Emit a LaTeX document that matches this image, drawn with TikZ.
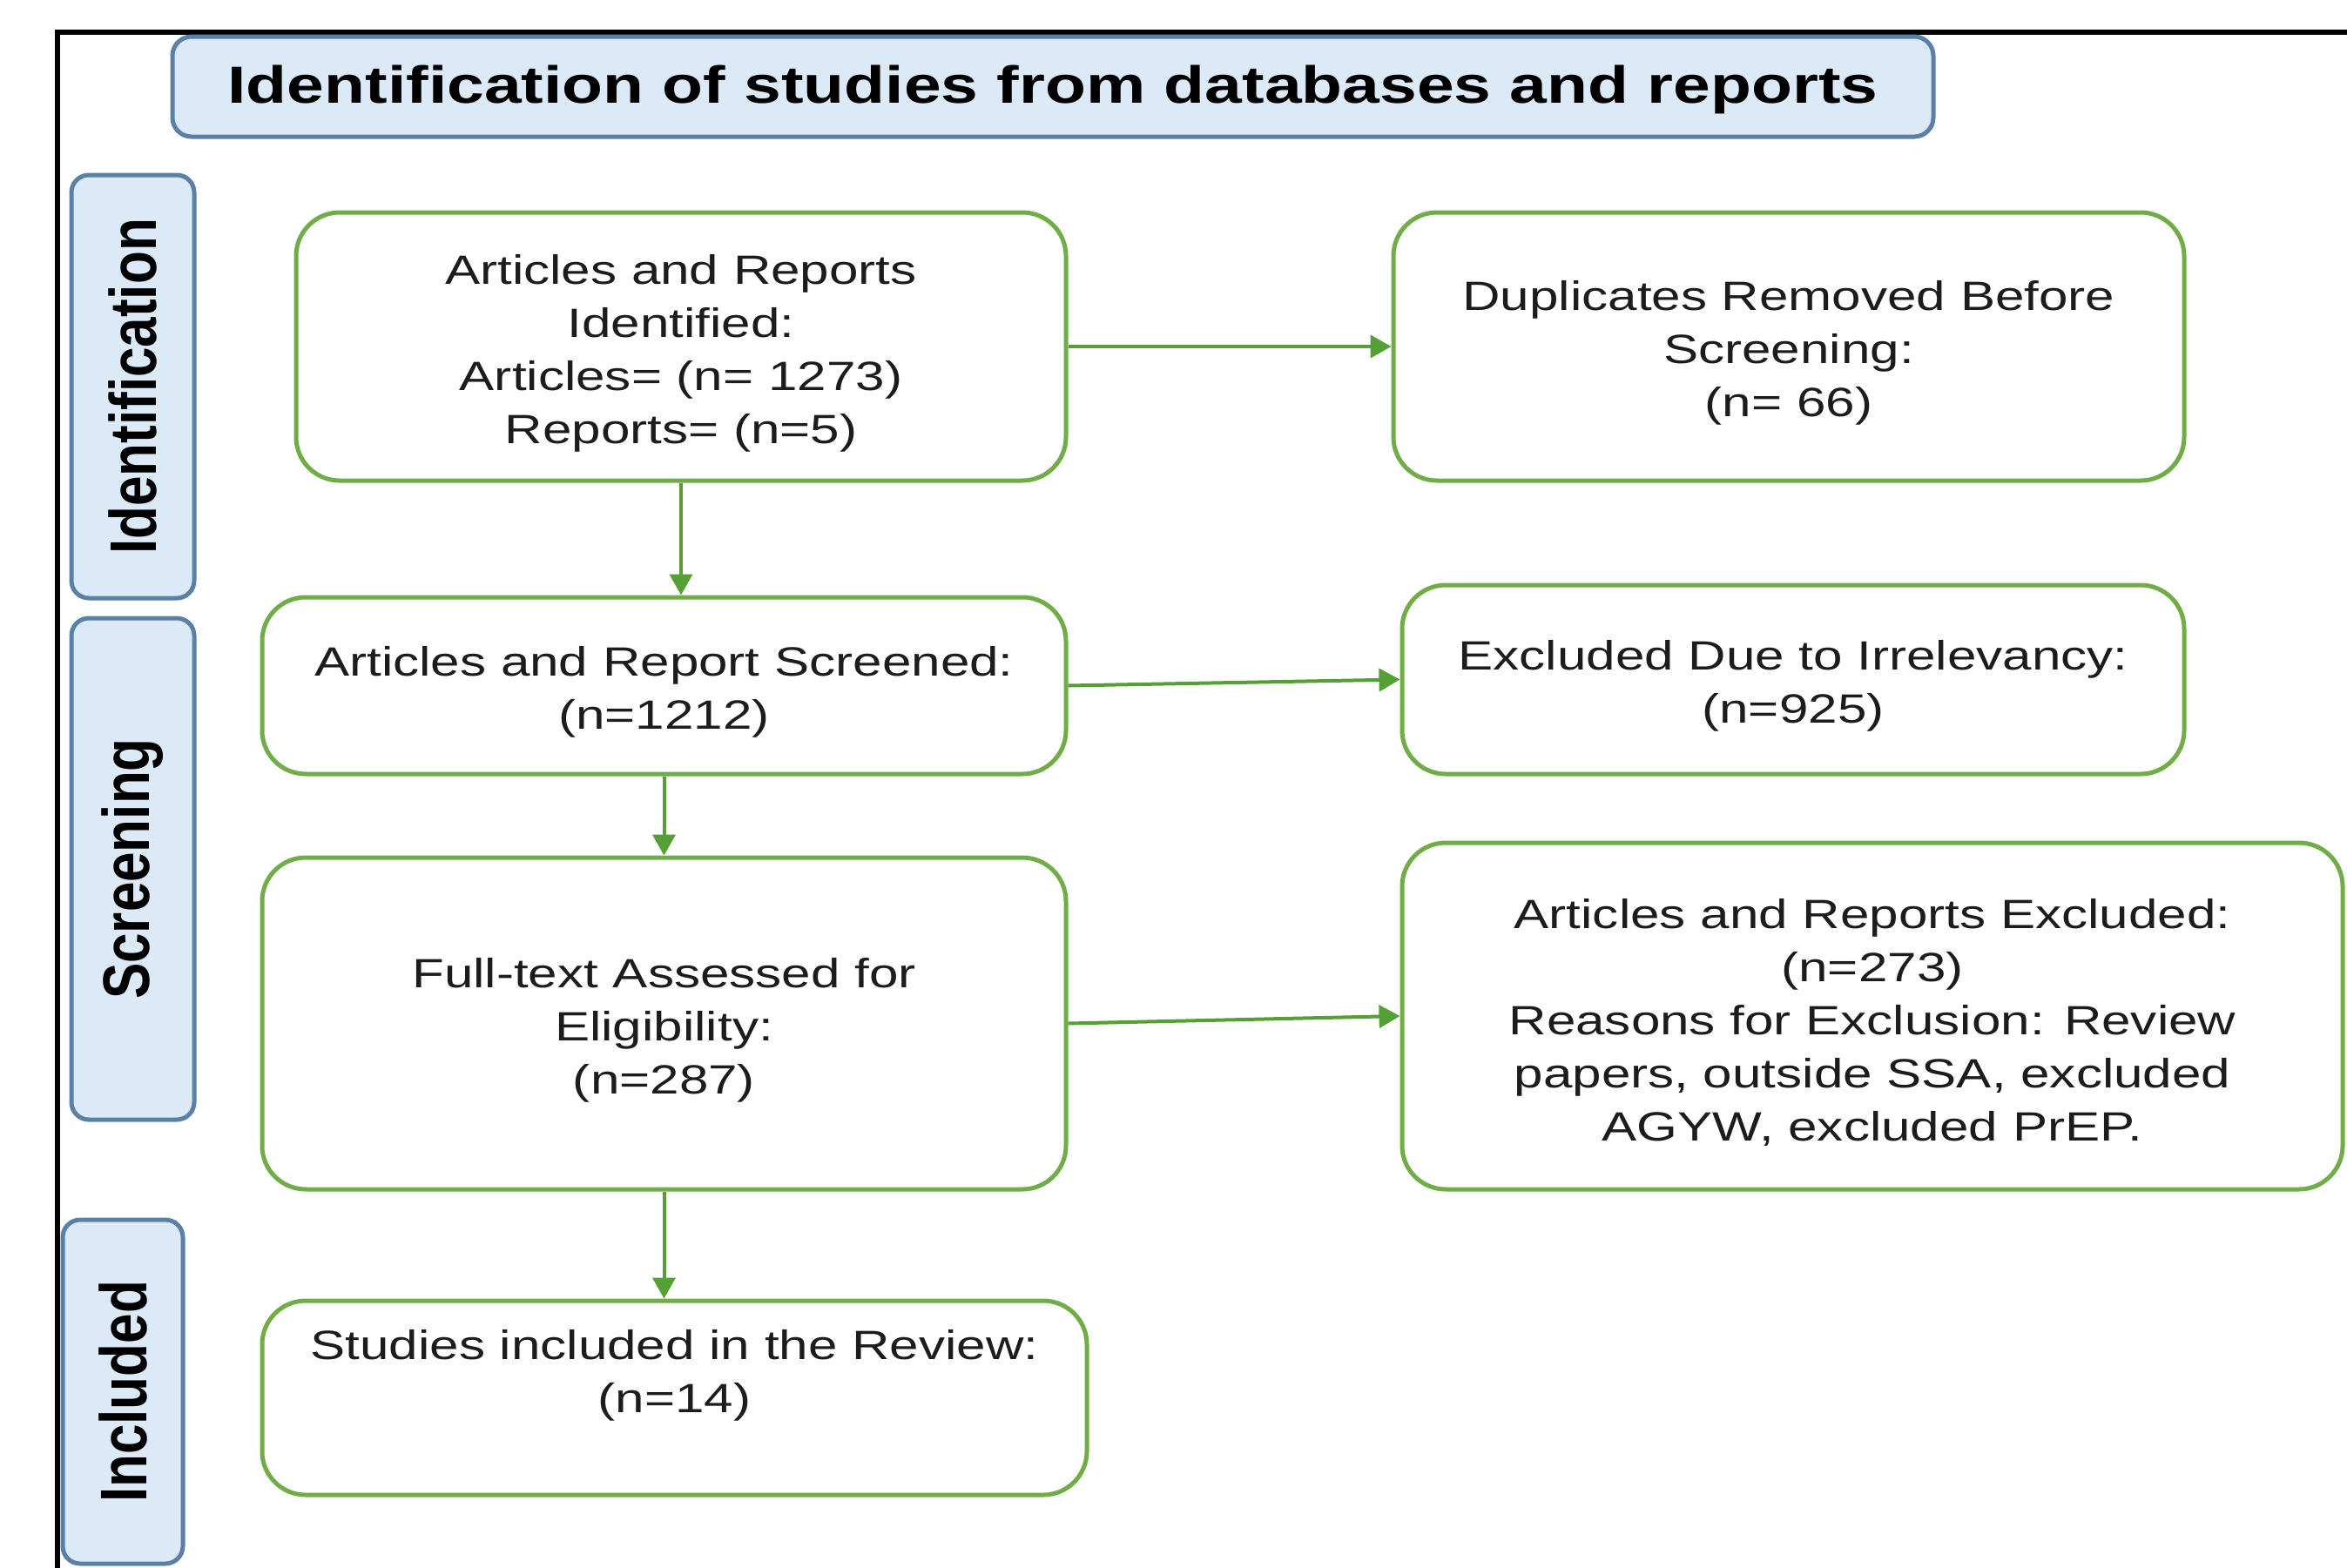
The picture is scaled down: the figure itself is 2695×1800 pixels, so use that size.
\documentclass[tikz,border=0pt]{standalone}
\usepackage{fontspec}
\usetikzlibrary{arrows.meta}
\newfontfamily\bodyfont[FakeStretch=1.28]{Liberation Sans}
\newfontfamily\sidefont{Liberation Sans}
\definecolor{gborder}{RGB}{112,173,71}
\definecolor{garrow}{RGB}{84,160,52}
\definecolor{bfill}{RGB}{220,233,247}
\definecolor{bborder}{RGB}{90,128,168}
\definecolor{txt}{RGB}{28,28,28}
\tikzset{
  gbox/.style={draw=gborder, line width=5pt, rounded corners=50pt, fill=white,
    align=center, inner sep=0pt, text=txt,
    font={\bodyfont\fontsize{47}{61}\selectfont}},
  sidebox/.style={draw=bborder, fill=bfill, line width=5pt, rounded corners=20pt,
    inner sep=0pt, minimum width=141pt, text=black,
    font={\sidefont\bfseries\fontsize{62}{70}\selectfont}},
  titlebox/.style={draw=bborder, fill=bfill, line width=5pt, rounded corners=22pt,
    inner sep=0pt, text=black,
    font={\bodyfont\bfseries\fontsize{60}{70}\selectfont}},
  arr/.style={draw=garrow, line width=4pt, -{Triangle[length=24pt,width=26pt]}},
}
\newcommand{\sidelabel}[1]{\rotatebox{90}{\scalebox{1}[1.22]{#1}}}
\newcommand{\topstrut}{\rule{0pt}{49pt}}
\begin{document}
\begin{tikzpicture}[x=1pt,y=-1pt]
\useasboundingbox (0,0) rectangle (2695,1800);
% outer frame (clipped at right and bottom)
\draw[line width=6pt, black] (66,1810) -- (66,37) -- (2710,37);
% title
\node[titlebox, minimum width=2022pt, minimum height=115pt] (title) at (1209,99.5)
  {\rule{0pt}{50pt}Identification of studies from databases and reports};
% side labels
\node[sidebox, minimum height=486pt] (sid) at (152.5,444) {\sidelabel{Identification}};
\node[sidebox, minimum height=576pt] (sscr) at (152.5,998) {\sidelabel{Screening}};
\node[sidebox, minimum width=138pt, minimum height=395pt] (sinc) at (141,1598.5) {\sidelabel{Included}};
% boxes
\node[gbox, minimum width=884pt, minimum height=308pt] (A) at (782,398)
  {\topstrut Articles and Reports\\Identified:\\Articles= (n= 1273)\\Reports= (n=5)};
\node[gbox, minimum width=908pt, minimum height=308pt] (B) at (2054,398)
  {\topstrut Duplicates Removed Before\\Screening:\\(n= 66)};
\node[gbox, minimum width=923pt, minimum height=203pt] (C) at (762.5,787.5)
  {\topstrut Articles and Report Screened:\\(n=1212)};
\node[gbox, minimum width=898pt, minimum height=217pt] (D) at (2059,780.5)
  {\topstrut Excluded Due to Irrelevancy:\\(n=925)};
\node[gbox, minimum width=923pt, minimum height=381pt] (E) at (762.5,1175.5)
  {\topstrut Full-text Assessed for\\Eligibility:\\(n=287)};
\node[gbox, minimum width=1080pt, minimum height=398pt] (F) at (2150,1167)
  {\topstrut Articles and Reports Excluded:\\(n=273)\\Reasons for Exclusion: Review\\papers, outside SSA, excluded\\AGYW, excluded PrEP.};
\node[gbox, minimum width=947pt, minimum height=223pt] (G) at (774.5,1605.5)
  {Studies included in the Review:\\(n=14)\\\mbox{}};
% connectors
\draw[arr] (A.east) -- (B.west);
\draw[arr] (A.south) -- (A.south |- C.north);
\draw[arr] (C.east) -- (D.west);
\draw[arr] (C.south) -- (E.north);
\draw[arr] (E.east) -- (F.west);
\draw[arr] (E.south) -- (E.south |- G.north);
\end{tikzpicture}
\end{document}
